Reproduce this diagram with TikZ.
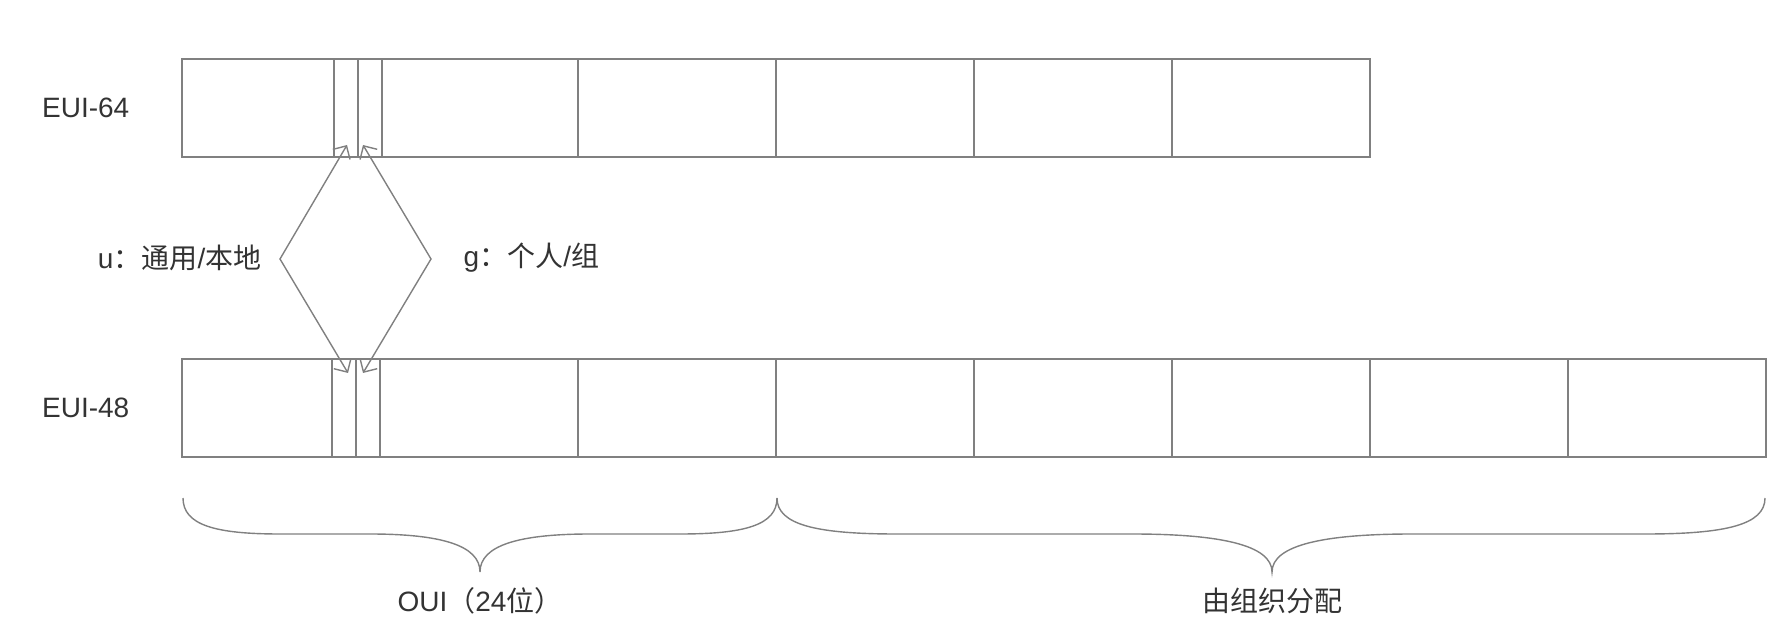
\documentclass[tikz,border=0pt]{standalone}
\usepackage{fontspec}
\setmainfont{Liberation Sans}
\newfontfamily\cjk{Noto Sans CJK SC}
\usetikzlibrary{arrows.meta,calc}
\definecolor{lineg}{RGB}{128,128,128}
\definecolor{textg}{RGB}{51,51,51}
\tikzset{every picture/.style={line width=0.7pt}}

\begin{document}
\begin{tikzpicture}[x=0.5pt,y=0.5pt,yscale=-1,xscale=1,
  cell/.style={draw=lineg, rectangle, anchor=north west, inner sep=0pt, outer sep=0pt, minimum height=49pt},
  byte/.style={cell, minimum width=99pt},
  bit/.style={cell, minimum width=12pt},
  lbl/.style={text=textg, inner sep=0pt, font=\fontsize{14}{16}\selectfont},
  conn/.style={draw=lineg, {Straight Barb[length=5pt,width=10pt]}-{Straight Barb[length=5pt,width=10pt]}}]
\useasboundingbox (0,0) rectangle (1787,641);

%EUI-64 row
\node[cell, minimum width=76pt] (t0) at (182,59) {};
\node[bit] (tu) at (334,59) {};
\node[bit] (tg) at (358,59) {};
\node[cell, minimum width=98pt] (t1) at (382,59) {};
\foreach \i in {2,...,5}
  \node[byte] (t\i) at ({380+(\i-1)*198},59) {};

%EUI-48 row
\node[cell, minimum width=75pt] (b0) at (182,359) {};
\node[bit] (bu) at (332,359) {};
\node[bit] (bg) at (356,359) {};
\foreach \i in {1,...,7}
  \node[byte] (b\i) at ({380+(\i-1)*198},359) {};

% Text Node
\node[lbl, anchor=east] (eui64) at (130,108) {EUI-64};
\node[lbl, anchor=east] (eui48) at (130,408) {EUI-48};
\node[lbl, anchor=east] (ulbl) at (262,258) {u{\cjk ：通用}/{\cjk 本地}};
\node[lbl, anchor=west] (glbl) at (463,258) {g{\cjk ：个人}/{\cjk 组}};

%u / g bits
\coordinate (lv) at (280,259);
\coordinate (rv) at (431,259);
\draw[conn] ($(tu.south)+(1,-12)$) -- (lv) -- ($(bu.north)+(4,14)$);
\draw[conn] ($(tg.south)+(-7,-12)$) -- (rv) -- ($(bg.north)+(-5,14)$);

%Braces
\draw[lineg] (183,498) .. controls (183,525) and (215,534) .. (280,534) -- (370,534) .. controls (440,534) and (480,545) .. (480,572) .. controls (480,545) and (520,534) .. (590,534) -- (680,534) .. controls (745,534) and (777,525) .. (777,498);
\draw[lineg] (777,498) .. controls (777,525) and (817,534) .. (897,534) -- (1132,534) .. controls (1220,534) and (1272,545) .. (1272,572) .. controls (1272,545) and (1324,534) .. (1412,534) -- (1645,534) .. controls (1725,534) and (1765,525) .. (1765,498);

% Text Node
\node[lbl, anchor=base] (oui) at (480,611) {OUI{\cjk （}24{\cjk 位）}};
\node[lbl, anchor=base] (org) at (1272,611) {\cjk 由组织分配};

\end{tikzpicture}
\end{document}
